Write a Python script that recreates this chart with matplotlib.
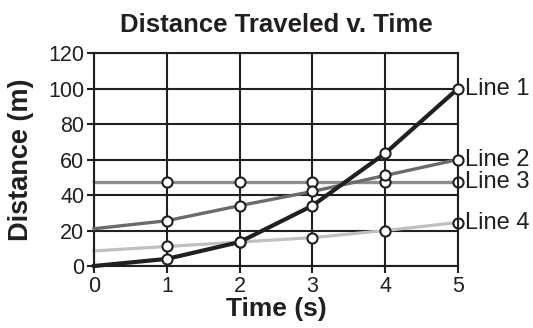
import matplotlib
matplotlib.use("Agg")
import matplotlib.pyplot as plt

plt.rcParams["font.family"] = ["Liberation Sans", "DejaVu Sans"]

# data
time_s = [0, 1, 2, 3, 4, 5]
line1 = [0, 4, 13.5, 34, 63.5, 100]
line2 = [21, 25.5, 34, 42, 51, 60]
line3 = [47.5, 47.5, 47.5, 47.5, 47.5, 47.5]
line4 = [8.5, 11, 13.5, 16, 20, 24.5]
labels = ["Line 1", "Line 2", "Line 3", "Line 4"]
y_ticks = [0, 20, 40, 60, 80, 100, 120]

ink = "#231f20"
series = [
    (line3, "#8d8e90", 2.4, 1),
    (line4, "#bfc0c2", 2.3, 2),
    (line2, "#6a6b6e", 2.4, 3),
    (line1, ink, 3.0, 4),
]

fig = plt.figure(figsize=(5.33, 3.28), dpi=100)
ax = fig.add_axes([0.1764, 0.189, 0.6829, 0.6494])

for vals, color, lw, z in series:
    ax.plot(time_s, vals, color=color, lw=lw, zorder=z,
            marker="o", markevery=[1, 2, 3, 4, 5], ms=7.3,
            mfc="white", mec=ink, mew=1.5, clip_on=False)

# labels at the right end
for vals, name in zip([line1, line2, line3, line4], labels):
    ax.annotate(name, (time_s[-1], vals[-1]), xytext=(5, 0),
                textcoords="offset points", va="center", ha="left",
                fontsize=17, color=ink)

ax.set_xlim(0, 5)
ax.set_ylim(0, 120)
ax.set_xticks(time_s)
ax.set_yticks(y_ticks)
ax.grid(True, color=ink, lw=1.5, zorder=0)
ax.set_axisbelow(True)
for s in ax.spines.values():
    s.set_color(ink)
    s.set_linewidth(1.5)
ax.tick_params(direction="out", length=5, width=1.5, color=ink,
               labelsize=15.5, labelcolor=ink, pad=2)

ax.set_title("Distance Traveled v. Time", fontsize=18.5, fontweight="bold",
             color=ink, pad=15)
ax.set_xlabel("Time (s)", fontsize=19, fontweight="bold", color=ink,
              labelpad=0)
ax.set_ylabel("Distance (m)", fontsize=19.5, fontweight="bold", color=ink,
              labelpad=10)

fig.savefig("out.png", dpi=100)
